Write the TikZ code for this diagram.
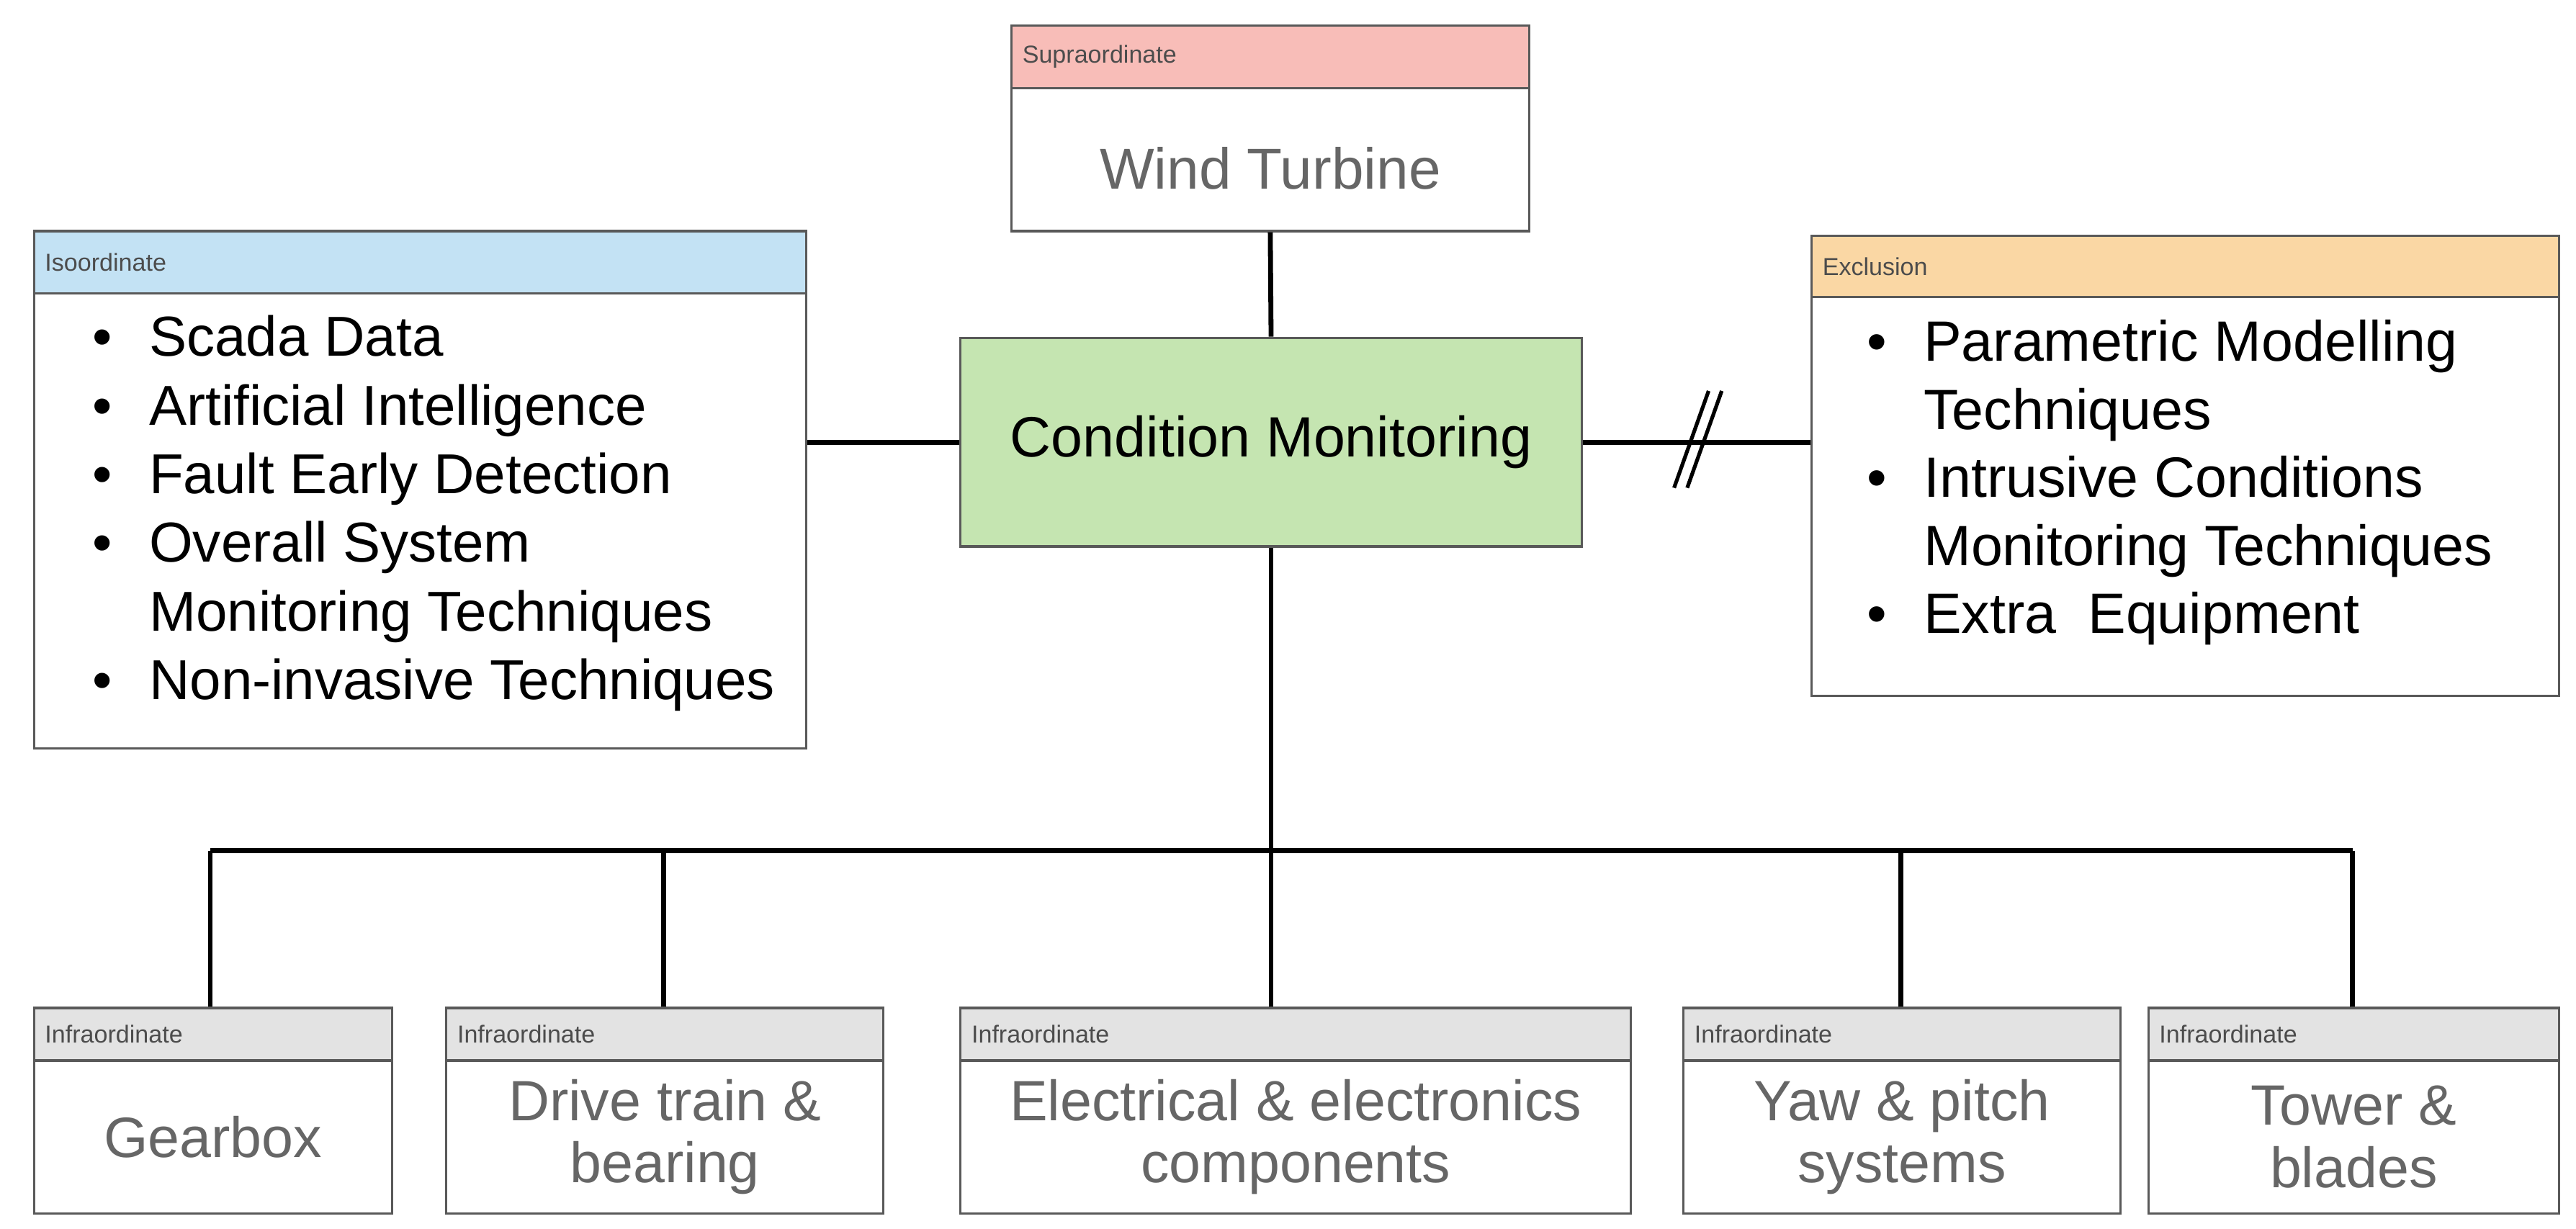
\documentclass[tikz,border=0pt]{standalone}
\usepackage{fontspec}
\setmainfont{Liberation Sans}
\usetikzlibrary{positioning}
\definecolor{supra}{HTML}{F8BDB8}
\definecolor{iso}{HTML}{C3E2F4}
\definecolor{excl}{HTML}{FAD7A4}
\definecolor{infra}{HTML}{E3E3E3}
\definecolor{core}{HTML}{C5E5B1}
\definecolor{greytext}{HTML}{666666}
\tikzset{
  frame/.style={draw=black!65,line width=0.8pt,anchor=north west,inner sep=0pt},
  head/.style={frame,font=\fontsize{8.5}{10}\selectfont,text=black!70,align=left,text depth=0pt},
  link/.style={line width=1.7pt},
}
\begin{document}
\begin{tikzpicture}[x=0.02cm,y=-0.02cm]
\useasboundingbox (0,0) rectangle (1568,748);
% category box: name, x, y, width, header height, body height, colour, title
\def\catbox#1#2#3#4#5#6#7#8{%
  \node[head,fill=#7,minimum width=#4*0.02cm,minimum height=#5*0.02cm] (#1-h) at (#2,#3) {};
  \node[anchor=west,font=\fontsize{8.5}{10}\selectfont,text=black!70,inner sep=0pt] at ([xshift=4pt]#1-h.west) {#8};
  \node[frame,minimum width=#4*0.02cm,minimum height=#6*0.02cm] (#1) at (#2,#3+#5) {};
}
\catbox{supra}{615}{15}{315}{38}{87}{supra}{Supraordinate}
\node[text=greytext,font=\fontsize{20}{24}\selectfont] at ([yshift=-3pt]supra.center) {Wind Turbine};
\catbox{iso}{20}{140}{470}{38}{277}{iso}{Isoordinate}
\catbox{excl}{1102}{143}{455}{37}{243}{excl}{Exclusion}
\node[frame,fill=core,minimum width=378*0.02cm,minimum height=127*0.02cm,
  font=\fontsize{19.7}{22}\selectfont] (cm) at (584,205) {Condition Monitoring};
% bullet lists
\def\arraystretch{1}
\node[anchor=west,inner sep=0pt,font=\fontsize{19.5}{23.8}\selectfont] at (56,313) {%
  \begin{tabular}{@{}l@{\hspace{0.45cm}}l@{}}
  \textbullet & Scada Data\\ \textbullet & Artificial Intelligence\\
  \textbullet & Fault Early Detection\\ \textbullet & Overall System\\
   & Monitoring Techniques\\ \textbullet & Non-invasive Techniques
  \end{tabular}};
\node[anchor=west,inner sep=0pt,font=\fontsize{19.7}{23.6}\selectfont] at (1136,294.5) {%
  \begin{tabular}{@{}l@{\hspace{0.45cm}}l@{}}
  \textbullet & Parametric Modelling\\ & Techniques\\
  \textbullet & Intrusive Conditions\\ & Monitoring Techniques\\
  \textbullet & Extra\ \ Equipment
  \end{tabular}};
% lower level
\catbox{gear}{20}{613}{218}{32}{93}{infra}{Infraordinate}
\catbox{drive}{271}{613}{266}{32}{93}{infra}{Infraordinate}
\catbox{elec}{584}{613}{408}{32}{93}{infra}{Infraordinate}
\catbox{yaw}{1024}{613}{266}{32}{93}{infra}{Infraordinate}
\catbox{tower}{1307}{613}{250}{32}{93}{infra}{Infraordinate}
\foreach \n/\t in {gear/Gearbox,drive/Drive train \&\\bearing,
  elec/Electrical \& electronics\\components,yaw/Yaw \& pitch\\systems,tower/Tower \&\\blades}
  \node[text=greytext,align=center,font=\fontsize{19.7}{21.5}\selectfont] at (\n) {\t};
% connectors
\draw[link] (cm.north) -- (supra.south);
\draw[link] (cm.west) -- (iso.east |- cm.west);
\draw[link] (cm.east) -- (excl.west |- cm.east);
\draw[line width=1.3pt] (1019,297) -- (1040,238) (1027,297) -- (1048,238);
\coordinate (bus) at (cm.south |- 0,518);
\draw[link] (cm.south) -- (bus);
\draw[link] (128,518) -- (1432,518);
\foreach \n/\x in {gear/128,drive/404,yaw/1157,tower/1432}
  \draw[link] (\x,518) -- (\x,613);
\draw[link] (bus) -- (bus |- elec-h.north);
\end{tikzpicture}
\end{document}
